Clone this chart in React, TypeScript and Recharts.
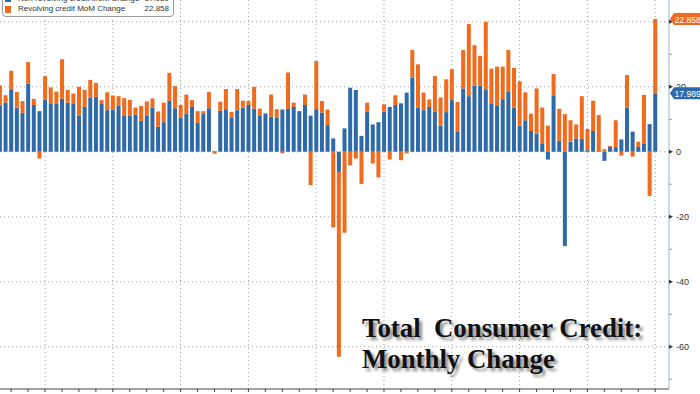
import React from 'react';
import { BarChart, Bar, XAxis, YAxis, ReferenceLine } from 'recharts';

// monthly change, $bn
const nonRevolving = [
  14.1, 15.1, 19.0, 13.6, 12.0, 21.0, 14.4, 12.5, 16.1, 14.7, 14.9, 16.3,
  15.1, 14.7, 11.2, 13.8, 16.7, 16.9, 14.7, 12.8, 13.0, 14.1, 11.0, 11.2,
  11.4, 9.5, 11.0, 13.6, 7.7, 9.1, 15.7, 13.4, 10.5, 11.8, 13.8, 8.9,
  11.6, 13.4, 0.2, 12.6, 13.1, 10.4, 12.8, 13.6, 14.4, 13.3, 11.0, 11.8,
  10.8, 10.4, 13.0, 13.2, 13.8, 12.5, 14.4, 11.1, 13.1, 12.1, 8.2, 4.1,
  -6.2, 7.2, 19.7, 19.0, 4.9, 12.3, 8.4, 9.1, 12.3, 13.8, 14.4, 14.9,
  18.2, 22.9, 13.5, 12.8, 13.8, 12.3, 8.0, 12.2, 15.9, 6.1, 19.5, 17.1,
  20.3, 20.3, 19.0, 14.7, 14.1, 16.2, 18.4, 13.6, 8.0, 9.7, 6.4, 5.6,
  2.4, -2.4, 17.4, 3.4, -29.0, 3.1, 4.1, 3.9, 0.5, 6.4, 0.2, -2.8,
  1.5, 1.4, 3.8, 13.6, 6.2, 1.5, 2.4, 8.5, 17.989,
];

const revolving = [
  6.4, 2.3, 5.9, 4.8, 3.6, 6.6, 1.9, -2.1, 7.2, 5.1, 3.6, 12.2,
  3.9, 3.2, 8.8, 5.2, 5.4, 4.3, 1.2, 5.5, 4.3, 3.0, 5.5, 4.8,
  2.2, 4.6, 4.5, 2.8, 4.7, 6.0, 8.6, 6.8, 3.9, 5.8, 2.1, 3.6,
  0.9, 5.0, -0.6, 2.8, 6.2, 1.9, 6.5, 2.1, 1.2, 6.7, 2.3, 0,
  6.8, 2.7, -0.5, 11.2, 1.3, 0, 3.2, -10.3, 14.8, 3.5, 4.8, -23.3,
  -56.9, -24.9, -4.2, -2.1, -9.9, 2.8, -3.6, -7.9, 2.3, -2.4, 3.0, -2.6,
  -0.5, 8.4, 13.4, 5.4, 2.3, 11.0, 8.7, 10.1, 9.5, 9.2, 11.8, 22.2,
  12.5, 9.2, 21.0, 10.9, 12.1, 10.0, 12.9, 12.2, 13.7, 8.6, 5.3, 13.9,
  11.2, 8.0, 6.5, 9.8, 11.6, 6.6, 4.3, 13.2, 6.5, 9.3, 11.1, 0.8,
  0.3, 8.3, -1.2, 10.0, -1.5, 1.6, 15.1, -13.6, 22.858,
];

const periods = nonRevolving.map((_, i) => `m${i + 1}`);
const quarterTicks = periods.filter((_, i) => (i + 1) % 3 === 0);
const yearLines = periods.filter((_, i) => i >= 8 && (i - 8) % 12 === 0);
const yTicks = [-70, -60, -50, -40, -30, -20, -10, 0, 10, 20, 30, 40];
const gridValues = [-60, -40, -20, 0, 20, 40];

const lastNonRev = nonRevolving[nonRevolving.length - 1];
const lastRev = revolving[revolving.length - 1];

const BLUE = '#2e6aa9';
const ORANGE = '#f26a1b';

const data = periods.map((p, i) => ({ period: p, nonRev: nonRevolving[i], rev: revolving[i] }));

function YTick(props: any) {
  const { x, y, payload } = props;
  const v = payload.value;
  if (v % 20 !== 0) {
    return <line x1={x} x2={x + 3} y1={y} y2={y} stroke="#8a9bb0" />;
  }
  return (
    <g>
      <path d={`M${x},${y - 2} L${x + 4},${y} L${x},${y + 2} Z`} fill="#333" />
      <text x={x + 7} y={y + 3} fontSize={9} fill="#333" fontFamily="Liberation Sans, Arial, sans-serif">
        {v}
      </text>
    </g>
  );
}

function badge(value: number, color: string) {
  return (props: any) => {
    const { viewBox } = props;
    const x = viewBox.x + viewBox.width;
    const y = viewBox.y;
    return (
      <g>
        <path
          d={`M${x + 1},${y} L${x + 5},${y - 6} L${x + 40},${y - 6} L${x + 40},${y + 6} L${x + 5},${y + 6} Z`}
          fill={color}
        />
        <text x={x + 5.5} y={y + 3.5} fontSize={8.6} fill="#fff" fontFamily="Liberation Sans, Arial, sans-serif">
          {value.toFixed(3)}
        </text>
      </g>
    );
  };
}

export default function App() {
  return (
    <div style={{ position: 'absolute', left: 0, top: 0, width: 700, height: 394, background: '#fff', overflow: 'hidden' }}>
      <BarChart
        width={700}
        height={394}
        data={data}
        stackOffset="sign"
        barCategoryGap="16%"
        margin={{ top: 0, right: 0, left: -3, bottom: 0 }}
      >
        <XAxis
          dataKey="period"
          ticks={quarterTicks}
          interval={0}
          tickFormatter={() => ''}
          tickSize={3}
          tickLine={{ stroke: '#444' }}
          axisLine={{ stroke: '#444' }}
          height={5}
          padding={{ left: 0, right: 11 }}
        />
        <YAxis
          orientation="right"
          width={31}
          domain={[-73, 46.7]}
          ticks={yTicks}
          interval={0}
          allowDataOverflow
          tickSize={0}
          tickMargin={0}
          tickLine={false}
          axisLine={{ stroke: '#9fb3c8' }}
          tick={<YTick />}
        />
        {gridValues.map((v) => (
          <ReferenceLine key={`h${v}`} y={v} stroke="#a0a0a0" strokeDasharray="1 3" zIndex={-100} />
        ))}
        {yearLines.map((p) => (
          <ReferenceLine key={p} x={p} stroke="#a0a0a0" strokeDasharray="1 3" zIndex={-100} />
        ))}
        <Bar dataKey="nonRev" stackId="a" fill={BLUE} isAnimationActive={false} />
        <Bar dataKey="rev" stackId="a" fill={ORANGE} isAnimationActive={false} />
        <ReferenceLine y={lastNonRev} stroke="none" zIndex={3000} label={badge(lastNonRev, BLUE)} />
        <ReferenceLine y={lastNonRev + lastRev} stroke="none" zIndex={3000} label={badge(lastRev, ORANGE)} />
      </BarChart>

      <div
        style={{
          position: 'absolute',
          left: 2,
          top: -11,
          width: 170,
          height: 26,
          border: '1px solid #999',
          borderRadius: 4,
          background: '#fff',
          fontFamily: 'Liberation Sans, Arial, sans-serif',
          fontSize: 8,
          color: '#333',
        }}
      >
        <div style={{ position: 'absolute', left: 2, top: 5, width: 6, height: 7, background: BLUE }} />
        <div style={{ position: 'absolute', left: 15, top: 4, lineHeight: '10px' }}>Non-revolving credit MoM Change</div>
        <div style={{ position: 'absolute', right: 4, top: 4, lineHeight: '10px' }}>{lastNonRev.toFixed(3)}</div>
        <div style={{ position: 'absolute', left: 2, top: 16, width: 6, height: 7, background: ORANGE }} />
        <div style={{ position: 'absolute', left: 15, top: 14, lineHeight: '10px' }}>Revolving credit MoM Change</div>
        <div style={{ position: 'absolute', right: 4, top: 14, lineHeight: '10px' }}>{lastRev.toFixed(3)}</div>
      </div>

      <div
        style={{
          position: 'absolute',
          left: 362,
          top: 313,
          fontFamily: 'Liberation Serif, Times New Roman, serif',
          fontWeight: 'bold',
          fontSize: 26.8,
          lineHeight: '31px',
          color: '#111',
          whiteSpace: 'pre',
          textShadow: '3px 3px 3px rgba(0,0,0,0.45)',
        }}
      >
        {'Total  Consumer Credit:\nMonthly Change'}
      </div>
    </div>
  );
}
